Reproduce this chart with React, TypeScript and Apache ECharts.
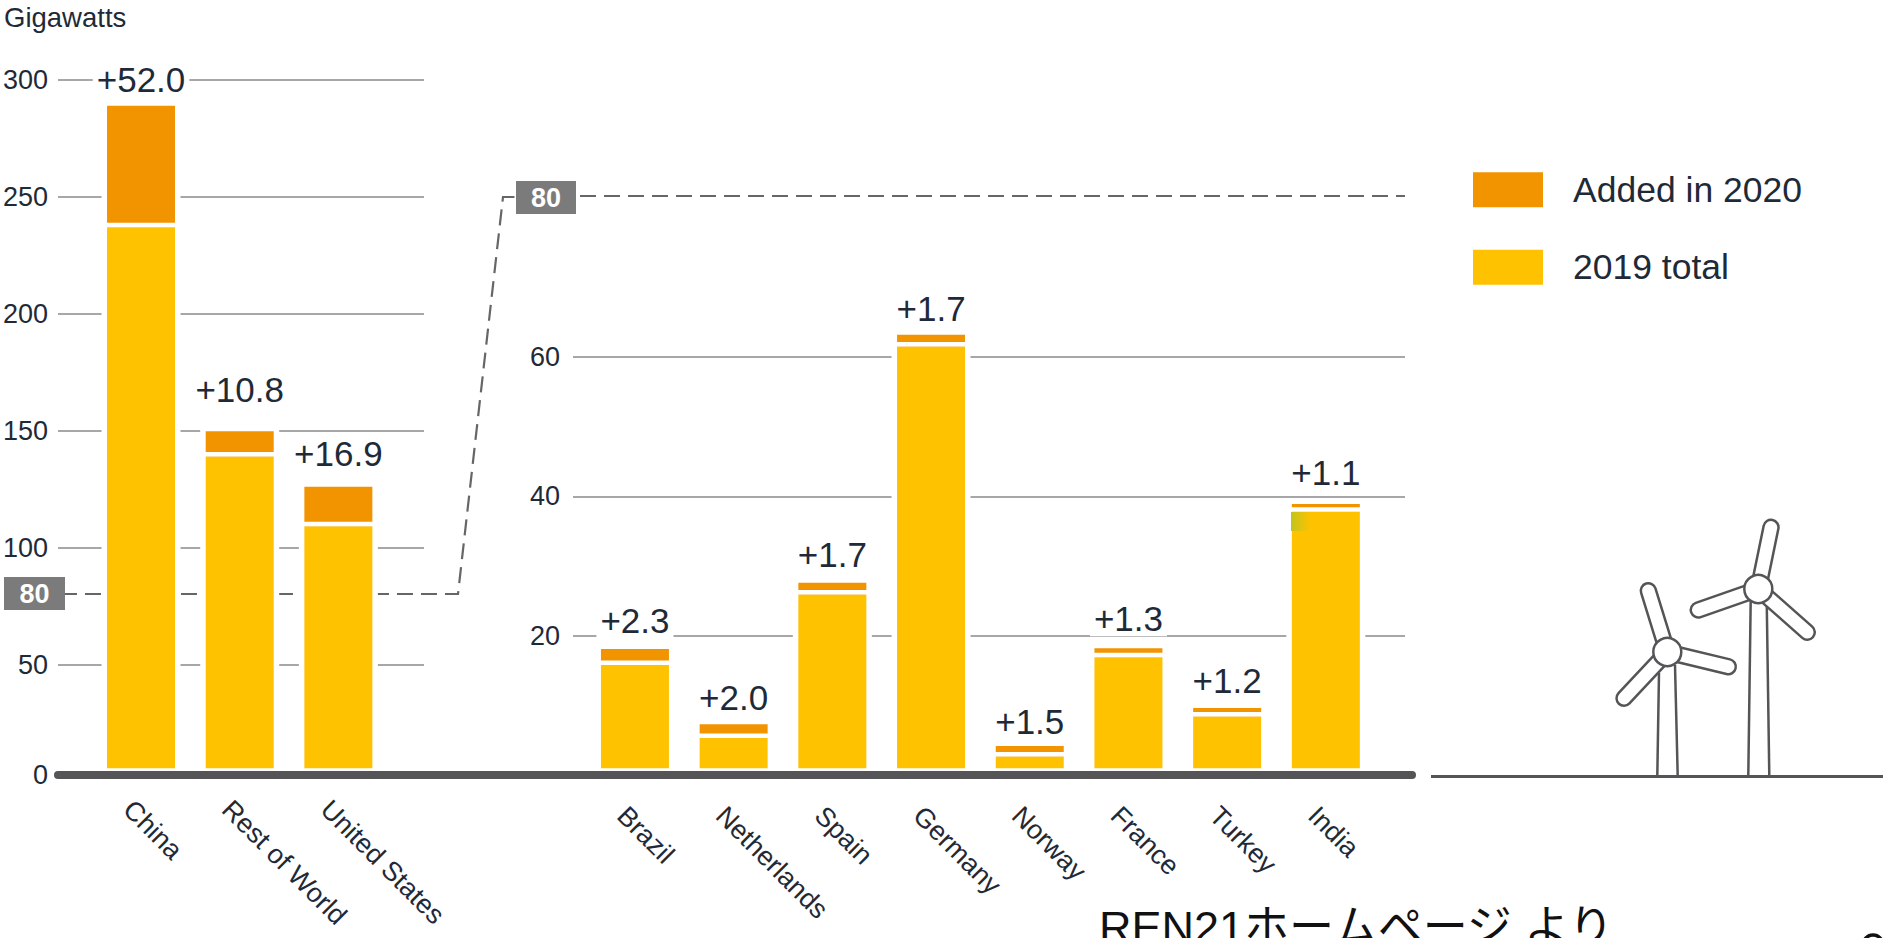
import React, { useEffect, useRef } from "react";
import * as echarts from "echarts";

// Cumulative wind capacity, gigawatts
const leadCategories = ["China", "Rest of World", "United States"];
const leadBase = [237, 139, 109.2];
const leadAdded = [52.0, 10.8, 16.9];
const leadLift = [0, 15, 7];

const otherCategories = ["Brazil", "Netherlands", "Spain", "Germany", "Norway", "France", "Turkey", "India"];
const otherBase = [15.8, 5.3, 25.9, 61.5, 2.65, 16.9, 8.4, 37.8];
const otherAdded = [2.3, 2.0, 1.7, 1.7, 1.5, 1.3, 1.2, 1.1];
const otherLift = [2, 0, 2, 0, -2, 3, 1, 5];

const leadTicks = [50, 100, 150, 200, 250, 300];
const otherTicks = [20, 40, 60];

const ADDED = "Added in 2020";
const TOTAL = "2019 total";
const ORANGE = "#F29400";
const YELLOW = "#FFC200";
const INK = "#1f2a38";
const RULE = "#8a8a8a";
const STEEL = "#555558";
const FONT = '"Liberation Sans", "Noto Sans CJK JP", sans-serif';

const BAR_WIDTH = 68;

// White margin around each column so the rules stop short of it
const haloItem = (params: any, api: any) => {
  const top = api.coord([api.value(0), api.value(1)]);
  const bottom = api.coord([api.value(0), 0]);
  const w = BAR_WIDTH + 11;
  return {
    type: "rect",
    shape: { x: top[0] - w / 2, y: top[1] - 5, width: w, height: bottom[1] - top[1] + 5 },
    style: { fill: "#fff" },
  };
};

// White slit between the 2019 stock and the 2020 addition
const slitItem = (params: any, api: any) => {
  const at = api.coord([api.value(0), api.value(1)]);
  return {
    type: "rect",
    shape: { x: at[0] - BAR_WIDTH / 2 - 1, y: at[1] - 4.5, width: BAR_WIDTH + 2, height: 4.5 },
    style: { fill: "#fff" },
  };
};

const panelSeries = (axis: number, stack: string, base: number[], added: number[], lift: number[]) => [
  {
    type: "custom",
    xAxisIndex: axis,
    yAxisIndex: axis,
    z: 1,
    silent: true,
    renderItem: haloItem,
    data: base.map((b, i) => [i, b + added[i]]),
  },
  {
    name: TOTAL,
    type: "bar",
    stack,
    xAxisIndex: axis,
    yAxisIndex: axis,
    barWidth: BAR_WIDTH,
    z: 2,
    itemStyle: { color: YELLOW },
    data: base,
  },
  {
    name: ADDED,
    type: "bar",
    stack,
    xAxisIndex: axis,
    yAxisIndex: axis,
    barWidth: BAR_WIDTH,
    z: 2,
    itemStyle: { color: ORANGE },
    data: added.map((v, i) => ({
      value: v,
      label: {
        show: true,
        position: "top",
        distance: 9 + lift[i],
        formatter: `+${v.toFixed(1)}`,
        fontFamily: FONT,
        fontSize: 35,
        lineHeight: 35,
        color: INK,
        backgroundColor: "#fff",
        padding: [0, 4],
      },
    })),
  },
  {
    type: "custom",
    xAxisIndex: axis,
    yAxisIndex: axis,
    z: 3,
    silent: true,
    renderItem: slitItem,
    data: base.map((b, i) => [i, b]),
  },
];

const valueAxis = (grid: number, max: number, ticks: number[], show: boolean, margin: number) => ({
  type: "value",
  gridIndex: grid,
  min: 0,
  max,
  axisLine: { show: false },
  axisTick: { show: false, customValues: ticks },
  axisLabel: {
    show,
    customValues: ticks,
    margin,
    fontFamily: FONT,
    fontSize: 27,
    color: INK,
  },
  splitLine: { show, lineStyle: { color: RULE, width: 1.5 } },
});

const ruleAxis = (grid: number) => ({
  type: "value",
  gridIndex: grid,
  min: 0,
  max: 1,
  show: false,
  splitLine: { show: false },
});

const categoryAxis = (grid: number, data: string[], margin: number) => ({
  type: "category",
  gridIndex: grid,
  data,
  axisLine: { show: false },
  axisTick: { show: false },
  splitLine: { show: false },
  axisLabel: {
    interval: 0,
    rotate: -45,
    align: "left",
    verticalAlign: "top",
    margin,
    padding: [5, 0, 0, 0],
    fontFamily: FONT,
    fontSize: 27,
    color: INK,
  },
});

// Rounded blade, swung around the hub towards its tip
const blade = (hx: number, hy: number, tx: number, ty: number) => {
  const dx = tx - hx;
  const dy = ty - hy;
  const r = 7.5;
  return {
    type: "rect",
    x: hx,
    y: hy,
    rotation: Math.atan2(-dy, dx),
    shape: { x: 0, y: -r, width: Math.hypot(dx, dy) + r, height: r * 2, r },
    style: { fill: "#fff", stroke: STEEL, lineWidth: 2.5 },
    z: 5,
  };
};

const mast = (x1: number, y1: number, x2: number, y2: number) => ({
  type: "line",
  shape: { x1, y1, x2, y2 },
  style: { stroke: STEEL, lineWidth: 2.5 },
  z: 4,
});

const hub = (x: number, y: number) => ({
  type: "circle",
  shape: { cx: x, cy: y, r: 14 },
  style: { fill: "#fff", stroke: STEEL, lineWidth: 2.5 },
  z: 6,
});

const scaleTag = (x: number, y: number, w: number, h: number) => [
  { type: "rect", shape: { x, y, width: w, height: h }, style: { fill: "#7b7b7b" }, z: 7 },
  {
    type: "text",
    x: x + w / 2,
    y: y + h / 2,
    style: {
      text: "80",
      fill: "#fff",
      font: `bold 27px ${FONT}`,
      align: "center",
      verticalAlign: "middle",
    },
    z: 8,
  },
];

const plainText = (text: string, x: number, y: number, size: number, color = INK, align = "left") => ({
  type: "text",
  x,
  y,
  style: { text, fill: color, font: `${size}px ${FONT}`, align, verticalAlign: "middle" },
  z: 12,
});

export default function App() {
  const ref = useRef<HTMLDivElement>(null);

  useEffect(() => {
    if (!ref.current) return;
    const chart = echarts.init(ref.current, null, { renderer: "svg" });
    chart.setOption({
      animation: false,
      backgroundColor: "#fff",
      legend: {
        data: [ADDED, TOTAL],
        orient: "vertical",
        left: 1473,
        top: 172,
        padding: 0,
        itemWidth: 70,
        itemHeight: 35,
        itemGap: 42,
        icon: "rect",
        selectedMode: false,
        textStyle: { fontFamily: FONT, fontSize: 35.5, color: INK, padding: [0, 0, 5, 25] },
      },
      // Plot boxes stay put even when the slanted country names run long
      grid: [
        { left: 58, width: 366, top: 80, height: 701.7, outerBoundsMode: "none" },
        { left: 91.7, width: 296, top: 80, height: 701.7, outerBoundsMode: "none" },
        { left: 573, width: 832, top: 196, height: 579, outerBoundsMode: "none" },
        { left: 585.6, width: 789.6, top: 196, height: 579, outerBoundsMode: "none" },
      ],
      xAxis: [
        ruleAxis(0),
        categoryAxis(1, leadCategories, 10),
        ruleAxis(2),
        categoryAxis(3, otherCategories, 23),
      ],
      yAxis: [
        valueAxis(0, 300, leadTicks, true, 10),
        valueAxis(1, 300, leadTicks, false, 10),
        valueAxis(2, 83.1, otherTicks, true, 13),
        valueAxis(3, 83.1, otherTicks, false, 13),
      ],
      series: [
        ...panelSeries(1, "leaders", leadBase, leadAdded, leadLift),
        ...panelSeries(3, "others", otherBase, otherAdded, otherLift),
      ],
      graphic: {
        elements: [
          // Broken-scale connector from the left panel's 80 to the right panel's 80
          {
            type: "polyline",
            shape: { points: [[61, 594], [458, 594], [503, 197], [516, 197]] },
            style: { stroke: "#666", lineWidth: 2.2, lineDash: [16, 8], fill: "none" },
            z: 0,
          },
          {
            type: "line",
            shape: { x1: 580, y1: 196, x2: 1405, y2: 196 },
            style: { stroke: "#666", lineWidth: 2.2, lineDash: [16, 8] },
            z: 0,
          },
          ...scaleTag(4, 577, 61, 33),
          ...scaleTag(516, 181, 60, 33),
          // Tint at the head of the India column
          {
            type: "rect",
            shape: { x: 1291, y: 512, width: 20, height: 19 },
            style: {
              fill: new echarts.graphic.LinearGradient(0, 0, 1, 0, [
                { offset: 0, color: "#C2C41E" },
                { offset: 1, color: YELLOW },
              ]),
            },
            z: 4,
          },
          // Bars stop short of the thick baseline
          { type: "rect", shape: { x: 50, y: 768.3, width: 1370, height: 16 }, style: { fill: "#fff" }, z: 10 },
          {
            type: "line",
            shape: { x1: 58, y1: 775, x2: 1412, y2: 775 },
            style: { stroke: STEEL, lineWidth: 8, lineCap: "round" },
            z: 11,
          },
          {
            type: "line",
            shape: { x1: 1431, y1: 776.5, x2: 1883, y2: 776.5 },
            style: { stroke: STEEL, lineWidth: 3 },
            z: 11,
          },
          plainText("0", 48, 775, 27, INK, "right"),
          plainText("Gigawatts", 4, 17, 27.5),
          // Turbines
          mast(1657.3, 776, 1659, 673),
          mast(1677.7, 776, 1675, 665),
          blade(1667.3, 652, 1648.3, 590.7),
          blade(1667.3, 652, 1728.3, 666.7),
          blade(1667.3, 652, 1624, 698.3),
          hub(1667.3, 652),
          mast(1748.3, 776, 1750.7, 600),
          mast(1769.3, 776, 1766.7, 600),
          blade(1758.3, 589, 1771, 527.3),
          blade(1758.3, 589, 1698.3, 610),
          blade(1758.3, 589, 1807.3, 632.3),
          hub(1758.3, 589),
          // Source line, running off the foot of the sheet
          {
            type: "text",
            x: 1099,
            y: 905,
            style: { text: "REN21ホームページ より", fill: "#111", font: `45px ${FONT}`, align: "left", verticalAlign: "top" },
            z: 12,
          },
          // Top of the sheet mark in the corner
          {
            type: "arc",
            shape: { cx: 1873, cy: 945, r: 10, startAngle: Math.PI, endAngle: 2 * Math.PI },
            style: { stroke: "#111", lineWidth: 3.5, fill: "none" },
            z: 12,
          },
        ],
      },
    });
    return () => chart.dispose();
  }, []);

  return <div ref={ref} style={{ position: "fixed", left: 0, top: 0, width: 1883, height: 938 }} />;
}
